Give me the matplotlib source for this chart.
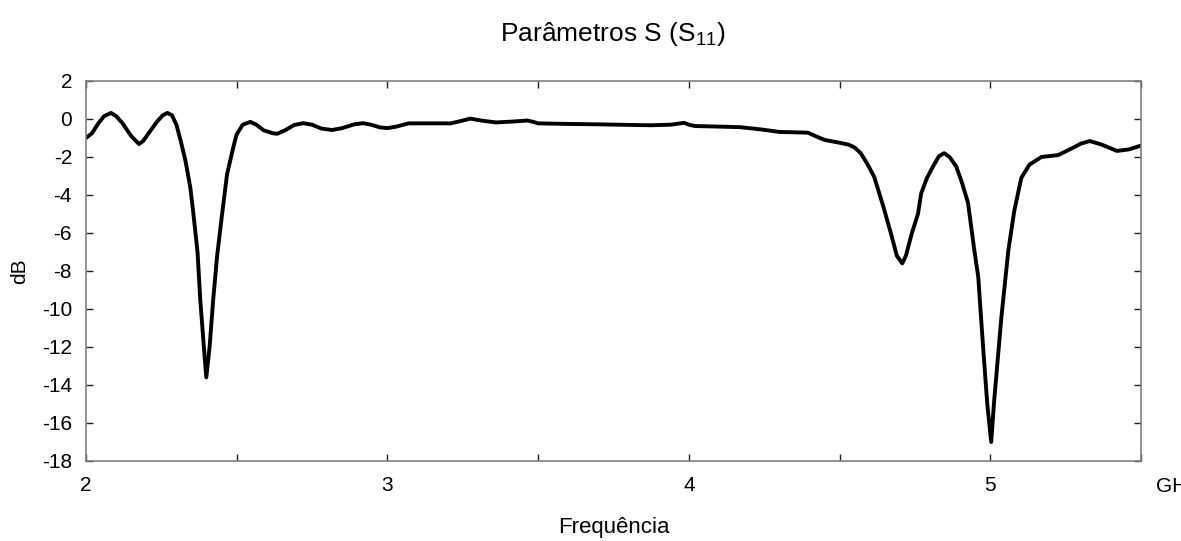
import matplotlib
matplotlib.use("Agg")
import matplotlib.pyplot as plt
from matplotlib.ticker import MultipleLocator, FixedLocator

plt.rcParams['font.family'] = ['Liberation Sans', 'DejaVu Sans']
plt.rcParams['mathtext.fontset'] = 'custom'
plt.rcParams['mathtext.rm'] = 'Liberation Sans'
plt.rcParams['mathtext.it'] = 'Liberation Sans'
plt.rcParams['axes.unicode_minus'] = False

# frequency (GHz) and S11 (dB)
freq = [2.00, 2.02, 2.04, 2.06, 2.083, 2.10, 2.12, 2.15, 2.176, 2.19,
        2.21, 2.235, 2.255, 2.27, 2.285, 2.30, 2.315, 2.33, 2.346, 2.355,
        2.37, 2.379, 2.392, 2.399, 2.41, 2.422, 2.435, 2.45, 2.468, 2.49,
        2.50, 2.52, 2.545, 2.565, 2.59, 2.62, 2.634, 2.66, 2.69, 2.72,
        2.75, 2.78, 2.816, 2.85, 2.89, 2.92, 2.95, 2.975, 3.0, 3.03,
        3.07, 3.14, 3.21, 3.24, 3.275, 3.31, 3.36, 3.41, 3.465, 3.49,
        3.5, 3.6, 3.7, 3.8, 3.874, 3.94, 3.985, 4.0, 4.02, 4.1,
        4.17, 4.24, 4.3, 4.35, 4.395, 4.42, 4.45, 4.5, 4.53, 4.55,
        4.57, 4.59, 4.615, 4.645, 4.67, 4.69, 4.708, 4.72, 4.74, 4.76,
        4.771, 4.79, 4.81, 4.83, 4.847, 4.865, 4.887, 4.905, 4.926, 4.947,
        4.96, 4.977, 4.99, 5.003, 5.013, 5.025, 5.037, 5.06, 5.08, 5.103,
        5.13, 5.17, 5.225, 5.27, 5.3, 5.33, 5.37, 5.42, 5.46, 5.5]
s11 = [-1.0, -0.75, -0.25, 0.15, 0.32, 0.15, -0.2, -0.9, -1.32, -1.15,
       -0.7, -0.15, 0.2, 0.32, 0.2, -0.3, -1.2, -2.2, -3.6, -4.8,
       -7.0, -9.5, -12.2, -13.6, -12.0, -9.5, -7.2, -5.2, -2.9, -1.4,
       -0.8, -0.3, -0.15, -0.3, -0.6, -0.75, -0.78, -0.6, -0.32, -0.22,
       -0.3, -0.5, -0.58, -0.48, -0.28, -0.22, -0.32, -0.44, -0.48, -0.4,
       -0.23, -0.23, -0.23, -0.12, 0.02, -0.08, -0.18, -0.14, -0.08, -0.18,
       -0.23, -0.26, -0.28, -0.31, -0.33, -0.3, -0.2, -0.3, -0.37, -0.4,
       -0.43, -0.55, -0.68, -0.7, -0.72, -0.9, -1.1, -1.25, -1.35, -1.5,
       -1.8, -2.3, -3.05, -4.6, -6.0, -7.2, -7.6, -7.2, -6.0, -5.0,
       -3.9, -3.1, -2.5, -1.95, -1.8, -2.0, -2.5, -3.3, -4.4, -6.9,
       -8.3, -12.2, -15.0, -17.0, -14.8, -12.6, -10.4, -6.9, -4.8, -3.1,
       -2.4, -2.0, -1.9, -1.55, -1.3, -1.16, -1.35, -1.68, -1.6, -1.4]

x_ticks = [2, 3, 4, 5]
y_ticks = list(range(-18, 3, 2))

fig = plt.figure(figsize=(11.81, 5.41), dpi=100)
ax = fig.add_axes([86/1181, 1 - 461/541, (1141-86)/1181, (461-81)/541])

ax.plot(freq, s11, color='black', lw=2.8, solid_joinstyle='round',
        solid_capstyle='round')

ax.set_xlim(2, 5.5)
ax.set_ylim(-18, 2)
ax.xaxis.set_major_locator(FixedLocator(x_ticks))
ax.xaxis.set_minor_locator(MultipleLocator(0.5))
ax.set_yticks(y_ticks)
ax.tick_params(which='both', direction='in', top=True, right=True,
               length=5, width=1, color='#222222', labelsize=15)
ax.tick_params(axis='x', pad=11)
ax.tick_params(axis='y', pad=10)
for sp in ax.spines.values():
    sp.set_color('#808080')
    sp.set_linewidth(1.2)

ax.set_ylabel('dB', fontsize=15, va='center')
ax.yaxis.set_label_coords((20 - 86) / 1055, 0.5)
ax.set_xlabel('Frequência', fontsize=16, va='center')
ax.xaxis.set_label_coords(0.5, (461 - 528) / 380)
fig.text(613/1181, 1 - 41/541, 'Parâmetros S (S$_{11}$)', fontsize=19,
         ha='center', va='baseline')
# unit label sits at the right edge, partly cut off as in the original
fig.text(1156/1181, 1 - 486/541, 'GHz', fontsize=15, ha='left', va='center')

fig.savefig('out.png', dpi=100)
